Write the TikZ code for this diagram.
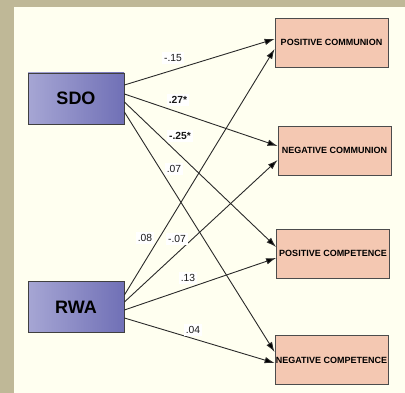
\documentclass[tikz,border=0pt]{standalone}
\usepackage{fontspec}
\setmainfont{Liberation Sans}
\usepackage{xcolor}
\usetikzlibrary{arrows.meta}

\definecolor{framegray}{HTML}{BFB897}
\definecolor{paper}{HTML}{FFFFF0}
\definecolor{predleft}{HTML}{A6A6D4}
\definecolor{predright}{HTML}{7070B6}
\definecolor{outfill}{HTML}{F4C8B2}
\definecolor{edgegray}{HTML}{2A2A2A}

\begin{document}
\begin{tikzpicture}[
    x=1pt, y=-1pt,
    predictor/.style={rectangle, draw=black!75, line width=0.8pt, left color=predleft, right color=predright, minimum width=96pt, minimum height=51pt, font=\fontsize{18}{20}\selectfont\bfseries},
    outcome/.style={rectangle, draw=black!70, line width=0.8pt, fill=outfill, minimum width=113pt, minimum height=49pt, inner sep=0pt, font=\fontsize{9}{10}\selectfont\bfseries},
    coef/.style={fill=white, inner sep=2pt, text=black!90, font=\fontsize{10.3}{12}\selectfont},
    effect/.style={-{Latex[length=10pt,width=6.5pt,fill=black]}, draw=edgegray, line width=0.9pt}
]
    % Frame and paper
    \useasboundingbox (0,0) rectangle (405,393);
    \fill[framegray] (0,0) rectangle (405,393);
    \fill[paper] (14,7) rectangle (405,393);

    % Predictor boxes
    \node[predictor] (sdo) at (76,98.5) {SDO};
    \node[predictor] (rwa) at (76,307) {RWA};

    % Outcome boxes
    \node[outcome] (poscomm) at (331.5,42.5) {POSITIVE COMMUNION};
    \node[outcome] (negcomm) at (334.5,150.5) {NEGATIVE COMMUNION};
    \node[outcome] (poscomp) at (333,253.5) {POSITIVE COMPETENCE};
    \node[outcome] (negcomp) at (331.5,360) {NEGATIVE COMPETENCE};

    % Paths from SDO
    \draw[effect] ([yshift=13.5pt]sdo.east) -- ([yshift=3.5pt]poscomm.west);
    \draw[effect] ([yshift=4.5pt]sdo.east) -- ([yshift=4.5pt]negcomm.west);
    \draw[effect] ([yshift=-3.5pt]sdo.east) -- ([yshift=6.5pt]poscomp.west);
    \draw[effect] ([yshift=-13.5pt]sdo.east) -- ([yshift=8pt]negcomp.west);

    % Paths from RWA
    \draw[effect] ([yshift=12pt]rwa.east) -- ([yshift=-6.5pt]poscomm.west);
    \draw[effect] ([yshift=5pt]rwa.east) -- ([yshift=-9.5pt]negcomm.west);
    \draw[effect] ([yshift=-3pt]rwa.east) -- ([yshift=-4.5pt]poscomp.west);
    \draw[effect] ([yshift=-11pt]rwa.east) -- ([yshift=-3pt]negcomp.west);

    % Coefficients
    \node[coef] (c1) at (173,58) {-.15};
    \node[coef] (c2) at (178,100) {\textbf{.27*}};
    \node[coef] (c3) at (180,136) {\textbf{-.25*}};
    \node[coef] (c4) at (174,169) {.07};
    \node[coef] (c5) at (145,238) {.08};
    \node[coef] (c6) at (177,239) {-.07};
    \node[coef] (c7) at (188,278) {.13};
    \node[coef] (c8) at (193,330) {.04};
\end{tikzpicture}
\end{document}
